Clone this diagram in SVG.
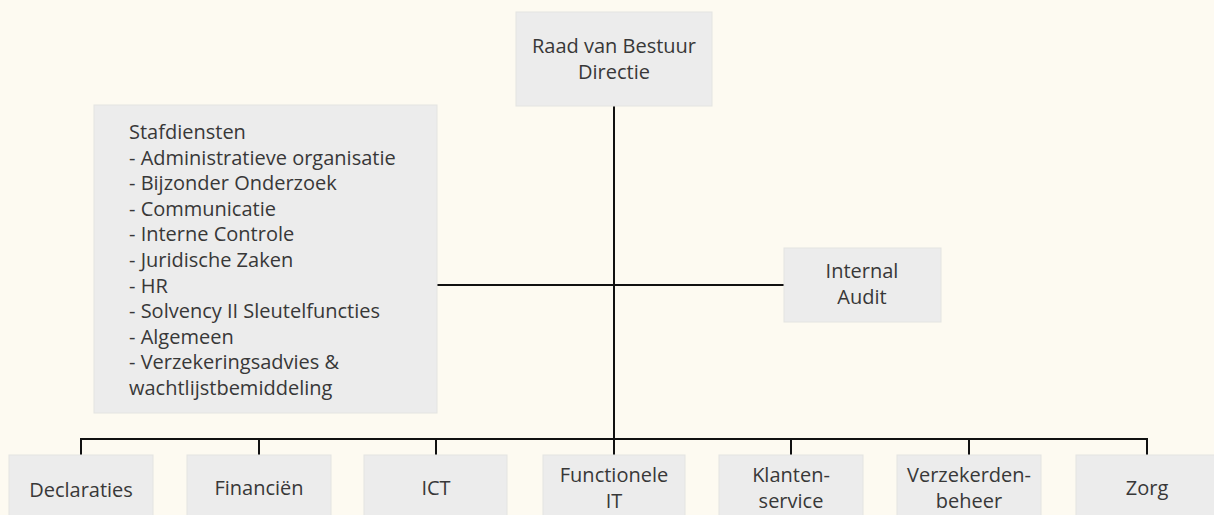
<svg xmlns="http://www.w3.org/2000/svg" width="1214" height="515" viewBox="0 0 1214 515">
<style>
.bg{fill:#fdfaf1}
.box{fill:#ececec;stroke:#e4e4e2;stroke-width:1}
.t{font-family:"Open Sans","Noto Sans",sans-serif;font-size:20px;fill:#383838}
.c{text-anchor:middle}
.ln{stroke:#111111;stroke-width:2;fill:none}
</style>
<rect class="bg" x="0" y="0" width="1214" height="515"/>
<g id="connectors">
<line class="ln" x1="614" y1="106" x2="614" y2="455"/>
<line class="ln" x1="437" y1="285" x2="784" y2="285"/>
<polyline class="ln" points="81,455 81,439 1147,439 1147,455"/>
<line class="ln" x1="259" y1="439" x2="259" y2="455"/>
<line class="ln" x1="436" y1="439" x2="436" y2="455"/>
<line class="ln" x1="791" y1="439" x2="791" y2="455"/>
<line class="ln" x1="969" y1="439" x2="969" y2="455"/>
</g>
<g id="raad">
<rect class="box" x="516" y="12" width="196" height="94"/>
<text class="t c" x="614" y="53">Raad van Bestuur</text>
<text class="t c" x="614" y="79">Directie</text>
</g>
<g id="stafdiensten">
<rect class="box" x="94" y="105" width="343" height="308"/>
<text class="t" x="129" y="139">Stafdiensten</text>
<text class="t" x="129" y="164.6">- Administratieve organisatie</text>
<text class="t" x="129" y="190.2">- Bijzonder Onderzoek</text>
<text class="t" x="129" y="215.8">- Communicatie</text>
<text class="t" x="129" y="241.4">- Interne Controle</text>
<text class="t" x="129" y="267">- Juridische Zaken</text>
<text class="t" x="129" y="292.6">- HR</text>
<text class="t" x="129" y="318.2">- Solvency II Sleutelfuncties</text>
<text class="t" x="129" y="343.8">- Algemeen</text>
<text class="t" x="129" y="369.4">- Verzekeringsadvies &amp;</text>
<text class="t" x="129" y="395">wachtlijstbemiddeling</text>
</g>
<g id="internal-audit">
<rect class="box" x="784" y="248" width="157" height="74"/>
<text class="t c" x="862" y="278">Internal</text>
<text class="t c" x="862" y="304">Audit</text>
</g>
<g id="declaraties">
<rect class="box" x="9" y="455" width="144" height="70"/>
<text class="t c" x="81" y="497">Declaraties</text>
</g>
<g id="financien">
<rect class="box" x="187" y="455" width="144" height="70"/>
<text class="t c" x="259" y="495">Financiën</text>
</g>
<g id="ict">
<rect class="box" x="364" y="455" width="143" height="70"/>
<text class="t c" x="436" y="495">ICT</text>
</g>
<g id="functionele-it">
<rect class="box" x="543" y="455" width="142" height="70"/>
<text class="t c" x="614" y="482">Functionele</text>
<text class="t c" x="614" y="508">IT</text>
</g>
<g id="klantenservice">
<rect class="box" x="719" y="455" width="144" height="70"/>
<text class="t c" x="791" y="482">Klanten-</text>
<text class="t c" x="791" y="508">service</text>
</g>
<g id="verzekerdenbeheer">
<rect class="box" x="897" y="455" width="144" height="70"/>
<text class="t c" x="969" y="482">Verzekerden-</text>
<text class="t c" x="969" y="508">beheer</text>
</g>
<g id="zorg">
<rect class="box" x="1076" y="455" width="144" height="70"/>
<text class="t c" x="1147" y="495">Zorg</text>
</g>
</svg>
